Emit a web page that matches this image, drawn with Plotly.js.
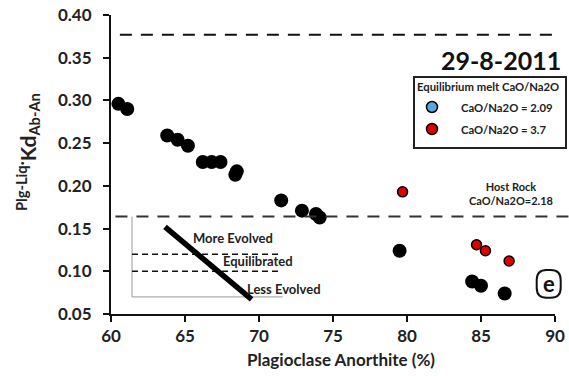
<!DOCTYPE html>
<html><head><meta charset="utf-8">
<script src="https://cdn.plot.ly/plotly-3.0.1.min.js"></script>
<style>body{margin:0;background:#fff}#c{width:569px;height:376px}</style>
</head><body><div id="c"></div>
<script>
// Black points (measured Kd)
const blackAn = [60.5, 61.1, 63.8, 64.5, 65.2, 66.2, 66.8, 67.4, 68.4, 68.5, 71.5, 72.9, 73.85, 74.1, 79.5, 84.4, 85.0, 86.6];
const blackKd = [0.296, 0.290, 0.259, 0.254, 0.247, 0.228, 0.228, 0.228, 0.213, 0.217, 0.183, 0.171, 0.167, 0.163, 0.124, 0.088, 0.083, 0.074];
// Red points (CaO/Na2O = 3.7)
const redAn = [79.7, 84.7, 85.3, 86.9];
const redKd = [0.193, 0.131, 0.124, 0.112];
// Reference lines
const hostRockKd = 0.164;
const topLineKd = 0.377;
const xTicks = [60, 65, 70, 75, 80, 85, 90];
const yTicks = [0.05, 0.10, 0.15, 0.20, 0.25, 0.30, 0.35, 0.40];
const legendTitle = 'Equilibrium melt CaO/Na2O';
const legendNames = ['CaO/Na2O = 2.09', 'CaO/Na2O = 3.7'];
const legendColors = ['#5aa7e0', '#e00000'];

const F = 'Lato, "Open Sans", sans-serif';
const traces = [
  {x: blackAn, y: blackKd, mode: 'markers', type: 'scatter', showlegend: false,
   marker: {color: '#000', size: 14}},
  {x: redAn, y: redKd, mode: 'markers', type: 'scatter', showlegend: false, name: legendNames[1],
   marker: {color: legendColors[1], size: 10, line: {color: '#000', width: 1.5}}}
];

const px = v => (v - 111) / 444, py = v => (314 - v) / 299;
const rx = 10/444, ry = 10/299;
const L = px(536.7), R = px(560.7), T = py(270), B = py(297.7);
const ePath = `M ${L+rx},${T} L ${R-rx},${T} Q ${R},${T} ${R},${T-ry} L ${R},${B+ry} Q ${R},${B} ${R-rx},${B} L ${L+rx},${B} Q ${L},${B} ${L},${B+ry} L ${L},${T-ry} Q ${L},${T} ${L+rx},${T} Z`;

const legRows = [107, 129];
const legShapes = legendColors.map((c, i) => ({type: 'circle', xref: 'paper', yref: 'paper',
  x0: px(432 - 5.5), x1: px(432 + 5.5), y0: py(legRows[i] + 5.5), y1: py(legRows[i] - 5.5),
  fillcolor: c, line: {color: '#000', width: 1.5}}));
const legAnns = legendNames.map((n, i) => ({xref: 'paper', yref: 'paper', x: px(459), y: py(legRows[i]),
  xanchor: 'left', yanchor: 'middle', showarrow: false, text: n,
  font: {family: F, size: 11.3, weight: 'bold', color: '#222'}}));

const layout = {
  width: 569, height: 376,
  margin: {l: 111, r: 14, t: 15, b: 62},
  paper_bgcolor: '#fff', plot_bgcolor: '#fff',
  font: {family: F, color: '#111'},
  showlegend: false,
  xaxis: {range: [60, 90], tickvals: xTicks, ticktext: xTicks.map(String), automargin: false,
    showgrid: false, zeroline: false, showline: true, linecolor: '#111', linewidth: 2,
    ticks: 'outside', ticklen: 6, tickwidth: 2, tickcolor: '#111',
    tickfont: {family: F, size: 17, weight: 'bold', color: '#222'}},
  yaxis: {range: [0.05, 0.40], tickvals: yTicks, ticktext: yTicks.map(v => v.toFixed(2)), automargin: false,
    showgrid: false, zeroline: false, showline: true, linecolor: '#111', linewidth: 2,
    ticks: 'outside', ticklen: 6, tickwidth: 2, tickcolor: '#111', ticklabelstandoff: 8,
    tickfont: {family: F, size: 17, weight: 'bold', color: '#222'}},
  shapes: [
    {type: 'line', xref: 'paper', x0: 0.02, x1: 1.01, yref: 'y', y0: topLineKd, y1: topLineKd,
     line: {color: '#111', width: 2, dash: '12px,9px'}},
    {type: 'line', xref: 'paper', x0: 0.01, x1: 1.04, yref: 'y', y0: hostRockKd, y1: hostRockKd,
     line: {color: '#333', width: 2, dash: '12px,9px'}},
    // inset legend box
    {type: 'line', xref: 'x', yref: 'y', x0: 61.42, x1: 61.42, y0: hostRockKd, y1: 0.070, line: {color: '#999', width: 1}},
    {type: 'line', xref: 'x', yref: 'y', x0: 61.42, x1: 71.6, y0: 0.070, y1: 0.070, line: {color: '#999', width: 1}},
    {type: 'line', xref: 'x', yref: 'y', x0: 61.42, x1: 71.5, y0: 0.12, y1: 0.12, line: {color: '#111', width: 1.5, dash: '6px,4px'}},
    {type: 'line', xref: 'x', yref: 'y', x0: 61.42, x1: 71.5, y0: 0.10, y1: 0.10, line: {color: '#111', width: 1.5, dash: '6px,4px'}},
    {type: 'line', xref: 'x', yref: 'y', x0: 63.65, x1: 69.5, y0: 0.152, y1: 0.067, line: {color: '#000', width: 5.5}},
    {type: 'path', xref: 'paper', yref: 'paper', path: ePath, line: {color: '#111', width: 2}},
    // legend box
    {type: 'rect', xref: 'paper', yref: 'paper', x0: px(414), x1: px(566), y0: py(148), y1: py(77),
     fillcolor: '#fff', line: {color: '#222', width: 2}},
    ...legShapes
  ],
  annotations: [
    {xref: 'paper', yref: 'paper', x: px(341), y: py(360), xanchor: 'center', yanchor: 'middle', showarrow: false,
     text: 'Plagioclase Anorthite (%)', font: {family: F, size: 17, weight: 'bold', color: '#222'}},
    {xref: 'paper', yref: 'paper', x: px(27), y: py(152), xanchor: 'center', yanchor: 'middle', showarrow: false, textangle: -90,
     text: '<sup>Plg-Liq·</sup>Kd<sub>Ab-An</sub>', font: {family: F, size: 21, weight: 'bold', color: '#222'}},
    {xref: 'paper', yref: 'paper', x: px(563), y: py(60), xanchor: 'right', yanchor: 'middle', showarrow: false,
     text: '29-8-2011', font: {family: F, size: 25, weight: 'bold', color: '#111'}},
    {xref: 'paper', yref: 'paper', x: px(488), y: py(87), xanchor: 'center', yanchor: 'middle', showarrow: false,
     text: legendTitle, font: {family: F, size: 11.3, weight: 'bold', color: '#222'}},
    ...legAnns,
    {xref: 'paper', yref: 'paper', x: px(511), y: py(193), xanchor: 'center', yanchor: 'middle', showarrow: false,
     text: 'Host Rock<br>CaO/Na2O=2.18', font: {family: F, size: 11, weight: 'bold', color: '#222'}},
    {xref: 'paper', yref: 'paper', x: px(548.7), y: py(283.8), xanchor: 'center', yanchor: 'middle', showarrow: false,
     text: 'e', font: {family: F, size: 22, weight: 'bold', color: '#111'}},
    {xref: 'paper', yref: 'paper', x: px(233), y: py(238), xanchor: 'center', yanchor: 'middle', showarrow: false,
     text: 'More Evolved', font: {family: F, size: 13, weight: 'bold', color: '#222'}},
    {xref: 'paper', yref: 'paper', x: px(258), y: py(260.7), xanchor: 'center', yanchor: 'middle', showarrow: false,
     text: 'Equilibrated', font: {family: F, size: 13, weight: 'bold', color: '#222'}},
    {xref: 'paper', yref: 'paper', x: px(284), y: py(289), xanchor: 'center', yanchor: 'middle', showarrow: false,
     text: 'Less Evolved', font: {family: F, size: 13, weight: 'bold', color: '#222'}}
  ]
};
Plotly.newPlot('c', traces, layout, {staticPlot: true, displayModeBar: false});
</script></body></html>
